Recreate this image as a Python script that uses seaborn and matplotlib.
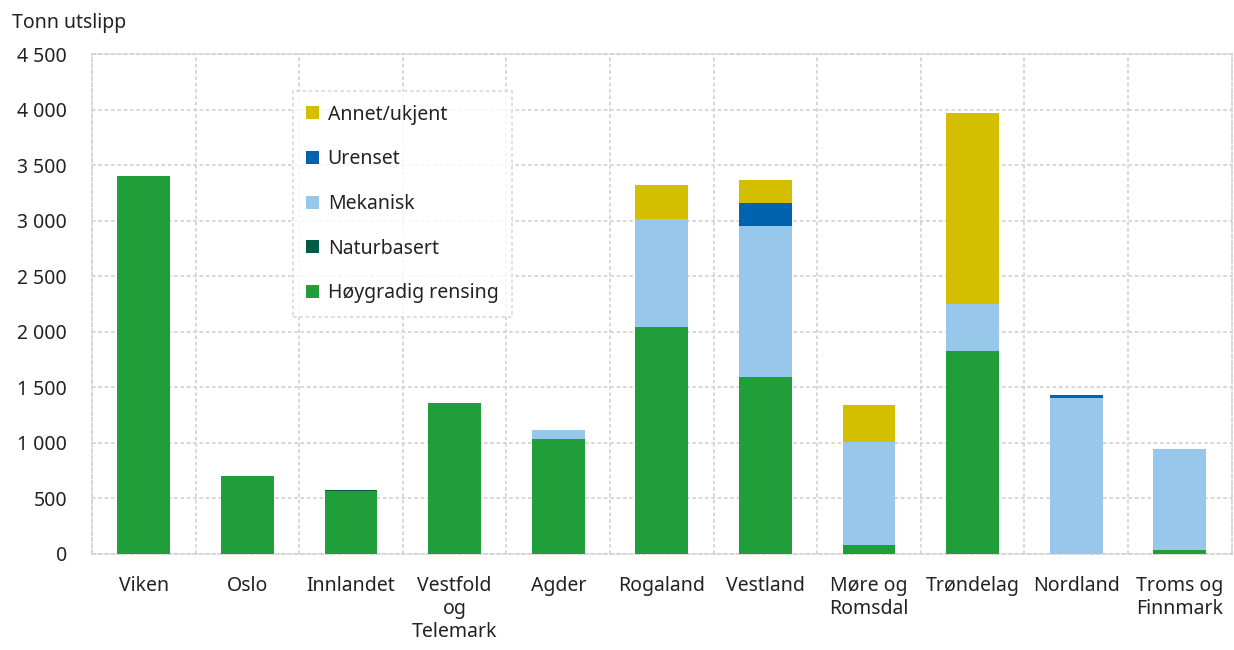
import matplotlib
matplotlib.use("Agg")
import matplotlib.pyplot as plt
from matplotlib.patches import Patch
from matplotlib.ticker import FixedLocator, FuncFormatter
import numpy as np
import pandas as pd
import seaborn as sns

# %% Data (tonn utslipp per fylke og rensegrad)
fylker = ["Viken", "Oslo", "Innlandet", "Vestfold\nog\nTelemark", "Agder",
          "Rogaland", "Vestland", "Møre og\nRomsdal", "Trøndelag",
          "Nordland", "Troms og\nFinnmark"]
hoygradig = [3400, 700, 570, 1360, 1036, 2045, 1595, 81, 1829, 0, 36]
naturbasert = [0, 0, 8, 0, 0, 0, 0, 0, 0, 0, 0]
mekanisk = [6, 0, 0, 0, 81, 973, 1360, 928, 423, 1405, 910]
urenset = [0, 0, 0, 0, 0, 0, 207, 0, 0, 27, 0]
annet = [0, 0, 0, 0, 0, 306, 207, 333, 1721, 0, 0]

serier = ["Høygradig rensing", "Naturbasert", "Mekanisk", "Urenset", "Annet/ukjent"]
farger = ["#1f9e3a", "#005a46", "#97c8ec", "#0063b0", "#d4be00"]

df = pd.DataFrame({"fylke": fylker, "Høygradig rensing": hoygradig,
                   "Naturbasert": naturbasert, "Mekanisk": mekanisk,
                   "Urenset": urenset, "Annet/ukjent": annet})
cum = df[serier].cumsum(axis=1)

# %% Plot
sns.set_style("white")
plt.rcParams["font.family"] = ["Noto Sans", "DejaVu Sans"]

fig = plt.figure(figsize=(12.34, 6.5), dpi=100)
ax = fig.add_axes([0.0746, 0.1477, 0.9235, 0.7692])

# draw cumulative totals from top layer down so lower layers cover upper ones
for navn, farge in zip(serier[::-1], farger[::-1]):
    sns.barplot(x=df["fylke"], y=cum[navn], color=farge, width=0.51,
                saturation=1, ax=ax, order=fylker, zorder=3,
                linewidth=0, edgecolor="none")

grid_kw = dict(color="#d4d4d4", linestyle=(0, (2, 1.5)), linewidth=1.3)
ax.set_ylim(0, 4500)
ax.set_xlim(-0.5, len(fylker) - 0.5)
ax.yaxis.set_major_locator(FixedLocator(np.arange(0, 4501, 500)))
ax.yaxis.set_major_formatter(FuncFormatter(lambda v, p: f"{int(v):,}".replace(",", " ")))
ax.xaxis.set_minor_locator(FixedLocator(np.arange(0.5, len(fylker) - 1, 1)))
ax.grid(axis="y", which="major", zorder=0, **grid_kw)
ax.grid(axis="x", which="minor", zorder=0, **grid_kw)
ax.set_axisbelow(True)
for s in ax.spines.values():
    s.set_color(grid_kw["color"])
    s.set_linestyle(grid_kw["linestyle"])
    s.set_linewidth(grid_kw["linewidth"])

ax.set_xlabel("")
ax.set_ylabel("")
ax.tick_params(axis="both", which="both", length=0, labelsize=14, colors="#222222")
ax.tick_params(axis="x", pad=16)
ax.tick_params(axis="y", pad=18)
for lbl in ax.get_xticklabels():
    lbl.set_linespacing(1.2)

fig.text(0.01, 0.965, "Tonn utslipp", fontsize=14, color="#222222", va="center")

handles = [Patch(facecolor=c, edgecolor="none", label=n)
           for n, c in zip(serier[::-1], farger[::-1])]
leg = ax.legend(handles=handles, loc="upper left", bbox_to_anchor=(0.176, 0.926),
                borderaxespad=0, fontsize=14, frameon=True, fancybox=False,
                handlelength=0.65, handleheight=0.65, handletextpad=0.45,
                labelspacing=1.27, borderpad=0.7)
leg.get_frame().set_edgecolor(grid_kw["color"])
leg.get_frame().set_linestyle(grid_kw["linestyle"])
leg.get_frame().set_linewidth(grid_kw["linewidth"])
for t in leg.get_texts():
    t.set_color("#222222")

fig.savefig("out.png", dpi=100, facecolor="white")
